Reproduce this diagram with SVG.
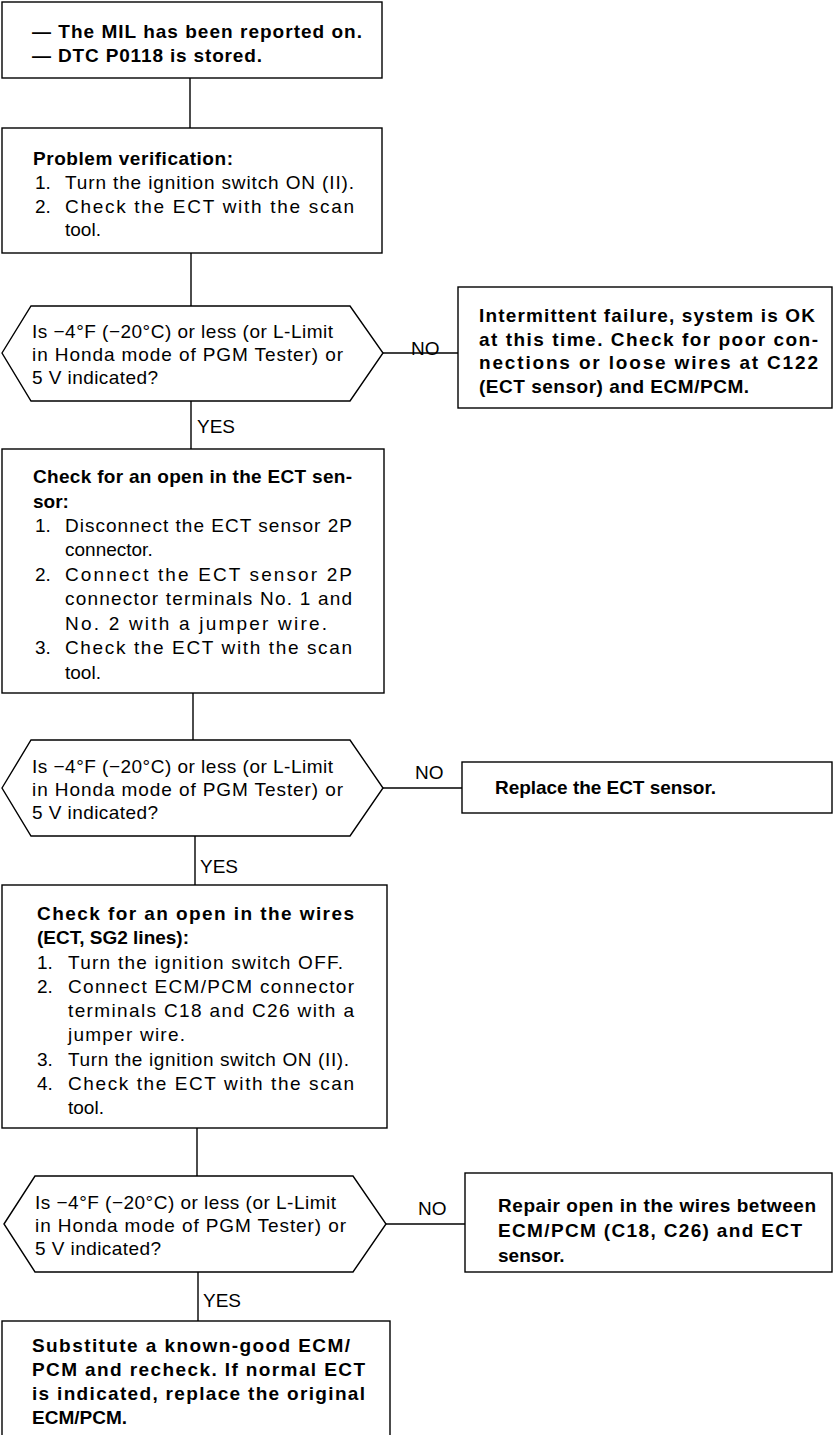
<svg xmlns="http://www.w3.org/2000/svg" width="833" height="1435" viewBox="0 0 833 1435">
<style>
.b{fill:#fff;stroke:#000;stroke-width:1.4}
.c{stroke:#000;stroke-width:1.4;fill:none}
text{font-family:"Liberation Sans",Arial,sans-serif;font-size:19px;fill:#000}
.t{font-weight:bold}
</style>
<rect width="833" height="1435" fill="#fff"/>
<g id="connectors">
<line class="c" x1="190" y1="78" x2="190" y2="128"/>
<line class="c" x1="191" y1="253" x2="191" y2="306"/>
<line class="c" x1="191" y1="401" x2="191" y2="449"/>
<line class="c" x1="193" y1="693" x2="193" y2="740"/>
<line class="c" x1="195" y1="836" x2="195" y2="885"/>
<line class="c" x1="197" y1="1128" x2="197" y2="1176"/>
<line class="c" x1="198" y1="1272" x2="198" y2="1321"/>
<line class="c" x1="383" y1="353" x2="458" y2="353"/>
<line class="c" x1="383" y1="788" x2="462" y2="788"/>
<line class="c" x1="386" y1="1224" x2="465" y2="1224"/>
<text x="411" y="355">NO</text>
<text x="197" y="433">YES</text>
<text x="415" y="779">NO</text>
<text x="200" y="873">YES</text>
<text x="418" y="1215">NO</text>
<text x="203" y="1307">YES</text>
</g>
<g id="start">
<rect class="b" x="2" y="2" width="380" height="76"/>
<text class="t" x="32" y="38" textLength="330" lengthAdjust="spacing">— The MIL has been reported on.</text>
<text class="t" x="32" y="62" textLength="230" lengthAdjust="spacing">— DTC P0118 is stored.</text>
</g>
<g id="verify">
<rect class="b" x="2" y="128" width="380" height="125"/>
<text class="t" x="33" y="165" textLength="200" lengthAdjust="spacing">Problem verification:</text>
<text x="35" y="189">1.</text>
<text x="65" y="189" textLength="289" lengthAdjust="spacing">Turn the ignition switch ON (II).</text>
<text x="35" y="212.5">2.</text>
<text x="65" y="212.5" textLength="289" lengthAdjust="spacing">Check the ECT with the scan</text>
<text x="65" y="236">tool.</text>
</g>
<g id="decision1">
<polygon class="b" points="2,353 31,306 350,306 383,353 350,401 31,401"/>
<text x="32" y="338" textLength="301" lengthAdjust="spacing">Is −4°F (−20°C) or less (or L-Limit</text>
<text x="32" y="361" textLength="311" lengthAdjust="spacing">in Honda mode of PGM Tester) or</text>
<text x="32" y="384" textLength="126" lengthAdjust="spacing">5 V indicated?</text>
</g>
<g id="intermittent">
<rect class="b" x="458" y="287" width="374" height="121"/>
<text class="t" x="479" y="322" textLength="336" lengthAdjust="spacing">Intermittent failure, system is OK</text>
<text class="t" x="479" y="345.5" textLength="339" lengthAdjust="spacing">at this time. Check for poor con-</text>
<text class="t" x="479" y="369" textLength="339" lengthAdjust="spacing">nections or loose wires at C122</text>
<text class="t" x="479" y="392.5" textLength="270" lengthAdjust="spacing">(ECT sensor) and ECM/PCM.</text>
</g>
<g id="check-sensor">
<rect class="b" x="2" y="449" width="382" height="244"/>
<text class="t" x="33" y="483" textLength="319" lengthAdjust="spacing">Check for an open in the ECT sen-</text>
<text class="t" x="33" y="507.5">sor:</text>
<text x="35" y="532">1.</text>
<text x="65" y="532" textLength="287" lengthAdjust="spacing">Disconnect the ECT sensor 2P</text>
<text x="65" y="556">connector.</text>
<text x="35" y="580.5">2.</text>
<text x="65" y="580.5" textLength="287" lengthAdjust="spacing">Connect the ECT sensor 2P</text>
<text x="65" y="605" textLength="287" lengthAdjust="spacing">connector terminals No. 1 and</text>
<text x="65" y="629.5" textLength="262" lengthAdjust="spacing">No. 2 with a jumper wire.</text>
<text x="35" y="654">3.</text>
<text x="65" y="654" textLength="287" lengthAdjust="spacing">Check the ECT with the scan</text>
<text x="65" y="678.5">tool.</text>
</g>
<g id="decision2">
<polygon class="b" points="2,788 31,740 350,740 383,788 350,836 31,836"/>
<text x="32" y="773" textLength="301" lengthAdjust="spacing">Is −4°F (−20°C) or less (or L-Limit</text>
<text x="32" y="796" textLength="311" lengthAdjust="spacing">in Honda mode of PGM Tester) or</text>
<text x="32" y="819" textLength="126" lengthAdjust="spacing">5 V indicated?</text>
</g>
<g id="replace-sensor">
<rect class="b" x="462" y="762" width="370" height="51"/>
<text class="t" x="495" y="794" textLength="221" lengthAdjust="spacing">Replace the ECT sensor.</text>
</g>
<g id="check-wires">
<rect class="b" x="2" y="885" width="385" height="243"/>
<text class="t" x="37" y="920" textLength="317" lengthAdjust="spacing">Check for an open in the wires</text>
<text class="t" x="37" y="944.25">(ECT, SG2 lines):</text>
<text x="37" y="968.5">1.</text>
<text x="68" y="968.5" textLength="275" lengthAdjust="spacing">Turn the ignition switch OFF.</text>
<text x="37" y="992.75">2.</text>
<text x="68" y="992.75" textLength="286" lengthAdjust="spacing">Connect ECM/PCM connector</text>
<text x="68" y="1017" textLength="286" lengthAdjust="spacing">terminals C18 and C26 with a</text>
<text x="68" y="1041.25" textLength="117" lengthAdjust="spacing">jumper wire.</text>
<text x="37" y="1065.5">3.</text>
<text x="68" y="1065.5" textLength="281" lengthAdjust="spacing">Turn the ignition switch ON (II).</text>
<text x="37" y="1089.75">4.</text>
<text x="68" y="1089.75" textLength="286" lengthAdjust="spacing">Check the ECT with the scan</text>
<text x="68" y="1114">tool.</text>
</g>
<g id="decision3">
<polygon class="b" points="4,1224 35,1176 353,1176 386,1224 353,1272 35,1272"/>
<text x="35" y="1209" textLength="301" lengthAdjust="spacing">Is −4°F (−20°C) or less (or L-Limit</text>
<text x="35" y="1232" textLength="311" lengthAdjust="spacing">in Honda mode of PGM Tester) or</text>
<text x="35" y="1255" textLength="126" lengthAdjust="spacing">5 V indicated?</text>
</g>
<g id="repair">
<rect class="b" x="465" y="1173" width="367" height="99"/>
<text class="t" x="498" y="1212" textLength="318" lengthAdjust="spacing">Repair open in the wires between</text>
<text class="t" x="498" y="1237" textLength="304" lengthAdjust="spacing">ECM/PCM (C18, C26) and ECT</text>
<text class="t" x="498" y="1262">sensor.</text>
</g>
<g id="substitute">
<rect class="b" x="2" y="1321" width="388" height="120"/>
<text class="t" x="32" y="1352" textLength="318" lengthAdjust="spacing">Substitute a known-good ECM/</text>
<text class="t" x="32" y="1376" textLength="333" lengthAdjust="spacing">PCM and recheck. If normal ECT</text>
<text class="t" x="32" y="1400" textLength="333" lengthAdjust="spacing">is indicated, replace the original</text>
<text class="t" x="32" y="1424">ECM/PCM.</text>
</g>
</svg>
